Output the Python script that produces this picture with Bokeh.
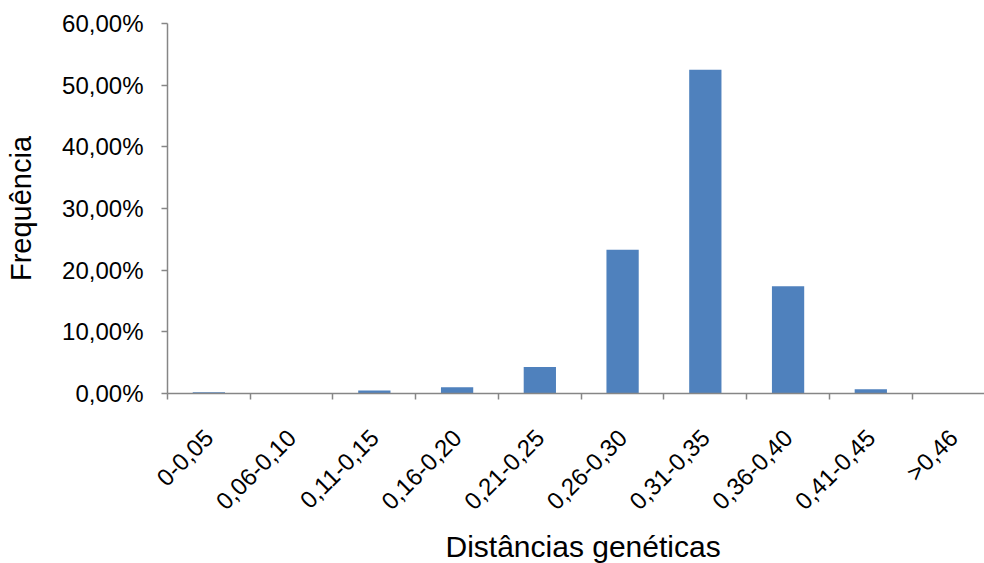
import math
from bokeh.plotting import figure
from bokeh.models import Range1d, FixedTicker, Title
from bokeh.embed import file_html
from bokeh.resources import INLINE

# Frequency of pairwise genetic distances per class
categories = ["0-0,05", "0,06-0,10", "0,11-0,15", "0,16-0,20", "0,21-0,25",
              "0,26-0,30", "0,31-0,35", "0,36-0,40", "0,41-0,45", ">0,46"]
frequencies = [0.2, 0.0, 0.5, 1.0, 4.3, 23.3, 52.5, 17.4, 0.7, 0.0]
y_ticks = [0, 10, 20, 30, 40, 50, 60]
y_tick_labels = ["0,00%", "10,00%", "20,00%", "30,00%", "40,00%", "50,00%", "60,00%"]

FONT = "Liberation Sans"
AXIS_GRAY = "#868686"
BAR_BLUE = "#4F81BD"

centers = [i + 0.5 for i in range(len(categories))]
bounds = [float(i) for i in range(len(categories) + 1)]

p = figure(width=984, height=563, output_backend="svg", toolbar_location=None,
           x_range=Range1d(0, 9.874), y_range=Range1d(0, 60),
           min_border_left=167, min_border_right=0,
           min_border_top=23, min_border_bottom=170)
p.outline_line_color = None
p.xgrid.grid_line_color = None
p.ygrid.grid_line_color = None
p.background_fill_color = "white"
p.border_fill_color = "white"

p.vbar(x=centers, top=frequencies, width=0.39, bottom=0,
       fill_color=BAR_BLUE, line_color=None)

# x axis: tick marks on class boundaries, labels at class centres
xa = p.xaxis[0]
xa.ticker = FixedTicker(ticks=centers, minor_ticks=bounds)
xa.major_label_overrides = {c: lab for c, lab in zip(centers, categories)}
xa.major_label_orientation = math.pi / 4
xa.major_tick_out = 0
xa.major_tick_in = 0
xa.minor_tick_out = 6
xa.minor_tick_in = 0
xa.minor_tick_line_color = AXIS_GRAY
xa.minor_tick_line_width = 1.5
xa.axis_line_color = AXIS_GRAY
xa.axis_line_width = 1.5
xa.major_label_standoff = 34
xa.major_label_text_font = FONT
xa.major_label_text_font_size = "24px"
xa.major_label_text_color = "black"

ya = p.yaxis[0]
ya.ticker = FixedTicker(ticks=y_ticks, minor_ticks=[])
ya.major_label_overrides = {t: lab for t, lab in zip(y_ticks, y_tick_labels)}
ya.major_tick_out = 6
ya.major_tick_in = 0
ya.major_tick_line_color = AXIS_GRAY
ya.major_tick_line_width = 1.5
ya.axis_line_color = AXIS_GRAY
ya.axis_line_width = 1.5
ya.major_label_standoff = 18
ya.major_label_text_font = FONT
ya.major_label_text_font_size = "24px"
ya.major_label_text_color = "black"
ya.axis_label = "Frequência"
ya.axis_label_standoff = 22
ya.axis_label_text_font = FONT
ya.axis_label_text_font_size = "29px"
ya.axis_label_text_font_style = "normal"
ya.axis_label_text_color = "black"

p.add_layout(Title(text="Distâncias genéticas", align="left", offset=278,
                   standoff=0, text_font=FONT, text_font_size="30px",
                   text_font_style="normal", text_color="black"), "below")

open("out.html", "w").write(file_html(p, INLINE))
